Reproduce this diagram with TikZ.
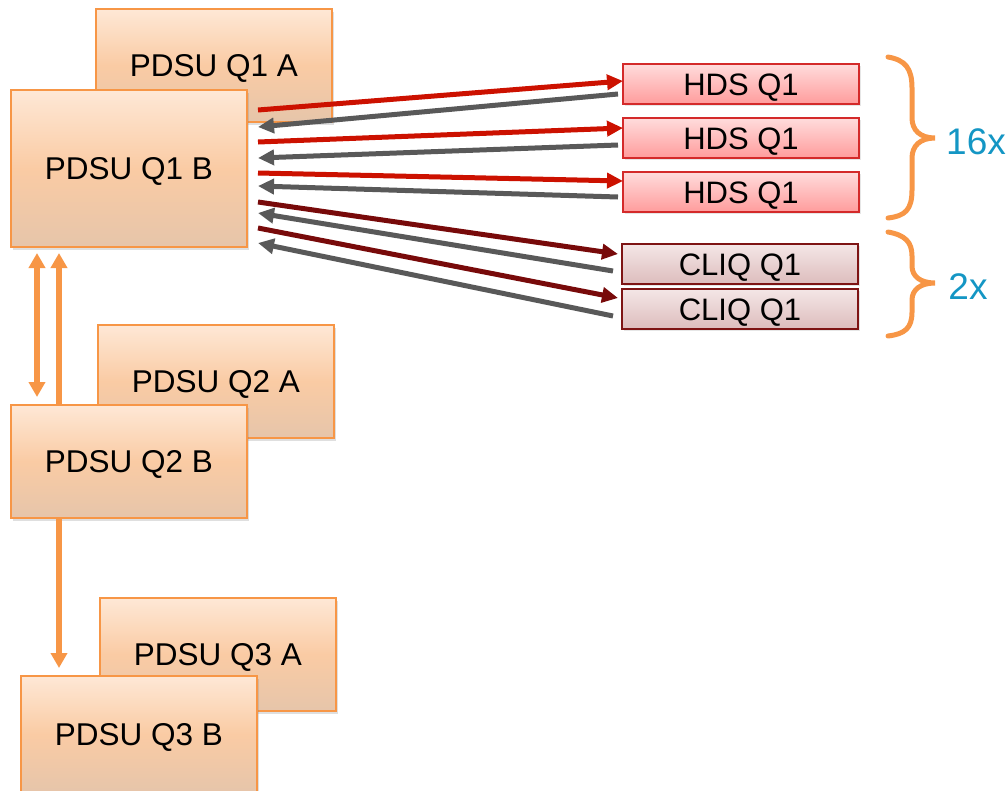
\documentclass[tikz,border=0pt]{standalone}
\usepackage{fontspec}
\setmainfont{Liberation Sans}
\usetikzlibrary{arrows.meta,shadows,calc}
\definecolor{pborder}{HTML}{F79646}
\definecolor{ptop}{HTML}{FEE8D6}
\definecolor{pmid}{HTML}{FACBA4}
\definecolor{pbot}{HTML}{E6C5AA}
\definecolor{htop}{HTML}{FFDCDC}
\definecolor{hbot}{HTML}{FF9C9C}
\definecolor{hborder}{HTML}{D42A2A}
\definecolor{ctop}{HTML}{F4E6E6}
\definecolor{cbot}{HTML}{DDBDBD}
\definecolor{cborder}{HTML}{7E1414}
\definecolor{redarr}{HTML}{CC1100}
\definecolor{darkarr}{HTML}{780A0A}
\definecolor{greyarr}{HTML}{595959}
\definecolor{countc}{HTML}{1496C4}
\tikzset{
  pdsu/.style={draw=pborder, line width=1.5pt, anchor=north west, minimum width=236pt, minimum height=113pt,
    inner sep=0pt, outer sep=0pt, top color=ptop, bottom color=pbot, middle color=pmid,
    drop shadow={opacity=0.25, shadow xshift=2pt, shadow yshift=-3pt},
    font=\fontsize{31.5}{36}\selectfont, text height=22.6pt, text depth=0pt},
  hds/.style={draw=hborder, line width=1.5pt, anchor=north west, minimum width=236pt, minimum height=40pt,
    inner sep=0pt, outer sep=0pt, top color=htop, bottom color=hbot,
    drop shadow={opacity=0.2, shadow xshift=2pt, shadow yshift=-2pt},
    font=\fontsize{31}{36}\selectfont, text height=22.2pt, text depth=0pt},
  cliq/.style={hds, draw=cborder, top color=ctop, bottom color=cbot},
  sig/.style={line width=5pt, -{Triangle[length=16pt,width=15pt]}},
  redsig/.style={sig, draw=redarr},
  darksig/.style={sig, draw=darkarr},
  greysig/.style={sig, draw=greyarr},
  orsig/.style={line width=5.5pt, draw=pborder, -{Triangle[length=15pt,width=16pt]}},
  brace/.style={draw=pborder, line width=5pt, line cap=round},
  count/.style={text=countc, font=\fontsize{37}{42}\selectfont, inner sep=0pt, text height=26.5pt, text depth=0pt}
}
\begin{document}
\begin{tikzpicture}[x=1pt,y=-1pt]
\useasboundingbox (0,0) rectangle (1008,790);
% PDSU boxes
\node[pdsu] (q1a) at (96,9) {PDSU Q1 A};
\node[pdsu, minimum height=157pt] (q1b) at (11,90) {PDSU Q1 B};
\node[pdsu] (q2a) at (98,325) {PDSU Q2 A};
\node[pdsu] (q2b) at (11,405) {PDSU Q2 B};
\node[pdsu] (q3a) at (100,598) {PDSU Q3 A};
\node[pdsu, minimum height=116pt] (q3b) at (21,676) {PDSU Q3 B};
% HDS / CLIQ boxes
\node[hds] (h1) at (623,64) {HDS Q1};
\node[hds] (h2) at (623,118) {HDS Q1};
\node[hds] (h3) at (623,172) {HDS Q1};
\node[cliq] (c1) at (622,244) {CLIQ Q1};
\node[cliq] (c2) at (622,289) {CLIQ Q1};
% signal arrows
\draw[redsig] ([xshift=11pt,yshift=-20pt]q1b.north east) -- ([yshift=-17pt]h1.north west);
\draw[greysig] ([xshift=-5pt,yshift=-30pt]h1.north west) -- ([xshift=11pt,yshift=-37pt]q1b.north east);
\draw[redsig] ([xshift=11pt,yshift=-52pt]q1b.north east) -- ([yshift=-10pt]h2.north west);
\draw[greysig] ([xshift=-5pt,yshift=-27pt]h2.north west) -- ([xshift=11pt,yshift=-68pt]q1b.north east);
\draw[redsig] ([xshift=11pt,yshift=-83pt]q1b.north east) -- ([yshift=-9pt]h3.north west);
\draw[greysig] ([xshift=-5pt,yshift=-25pt]h3.north west) -- ([xshift=11pt,yshift=-96pt]q1b.north east);
\draw[darksig] ([xshift=11pt,yshift=-112pt]q1b.north east) -- ([xshift=-4pt,yshift=-10pt]c1.north west);
\draw[greysig] ([xshift=-9pt,yshift=-27pt]c1.north west) -- ([xshift=11pt,yshift=-123pt]q1b.north east);
\draw[darksig] ([xshift=11pt,yshift=-138pt]q1b.north east) -- ([xshift=-4pt,yshift=-9pt]c2.north west);
\draw[greysig] ([xshift=-9pt,yshift=-27pt]c2.north west) -- ([xshift=11pt,yshift=-153pt]q1b.north east);
% orange links
\draw[orsig, {Triangle[length=15pt,width=16pt]}-{Triangle[length=15pt,width=16pt]}]
  ([xshift=26pt,yshift=-6pt]q1b.south west) -- ([xshift=26pt,yshift=8pt]q2b.north west);
\draw[orsig] ([xshift=48pt]q2b.north west) -- ([xshift=48pt,yshift=-6pt]q1b.south west);
\draw[orsig] ([xshift=48pt]q2b.south west) -- ([xshift=38pt,yshift=8pt]q3b.north west);
% braces
\draw[brace] (888,57) .. controls (905,60) and (912,68) .. (912,88)
  -- (912,118) .. controls (912,130) and (920,138) .. (935,138)
  .. controls (920,138) and (912,146) .. (912,158)
  -- (912,190) .. controls (912,210) and (905,216) .. (888,218);
\draw[brace] (888,232) .. controls (905,235) and (912,242) .. (912,256)
  -- (912,266) .. controls (912,276) and (920,283) .. (935,283)
  .. controls (920,283) and (912,290) .. (912,300)
  -- (912,312) .. controls (912,328) and (905,334) .. (888,336);
\node[count] (n16) at (976,141) {16x};
\node[count] (n2) at (968,286) {2x};
\end{tikzpicture}
\end{document}
